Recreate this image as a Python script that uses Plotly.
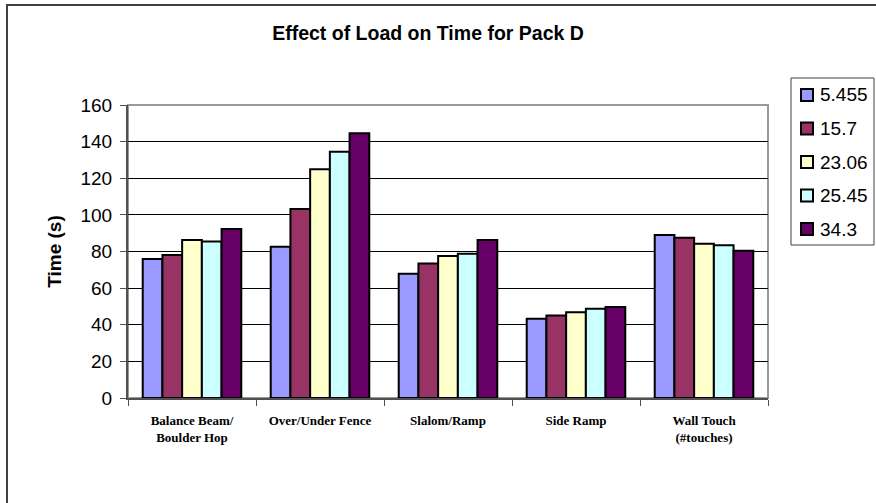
import plotly.graph_objects as go

# Tasks performed with Pack D
categories = [
    "Balance Beam/<br>Boulder Hop",
    "Over/Under Fence",
    "Slalom/Ramp",
    "Side Ramp",
    "Wall Touch<br>(#touches)",
]

# Load levels (series names) and their bar colours
loads = ["5.455", "15.7", "23.06", "25.45", "34.3"]
colors = ["#9999FF", "#993366", "#FFFFCC", "#CCFFFF", "#660066"]

# Time (s) per task for each load
time_5_455 = [75.9, 82.6, 67.9, 43.3, 89.0]
time_15_7 = [78.1, 103.2, 73.4, 45.0, 87.5]
time_23_06 = [86.3, 124.9, 77.6, 46.8, 84.3]
time_25_45 = [85.4, 134.5, 78.8, 48.8, 83.4]
time_34_3 = [92.3, 144.6, 86.3, 49.7, 80.4]
series = [time_5_455, time_15_7, time_23_06, time_25_45, time_34_3]

y_ticks = [0, 20, 40, 60, 80, 100, 120, 140, 160]

W, H = 876, 503
L, R, T, B = 128, 108, 105, 105
PW, PH = W - L - R, H - T - B


def px(x):
    return (x - L) / PW


def py(y):
    return (H - B - y) / PH


fig = go.Figure()
for name, vals, col in zip(loads, series, colors):
    fig.add_trace(go.Bar(
        x=categories, y=vals, name=name,
        marker=dict(color=col, line=dict(color="black", width=2)),
        showlegend=False,
    ))

shapes = []
# outer chart frame
shapes.append(dict(type="rect", xref="paper", yref="paper",
                   x0=px(7), x1=px(890), y0=py(5), y1=py(515),
                   line=dict(color="#404040", width=2), layer="below"))
# plot-area border
shapes.append(dict(type="rect", xref="paper", yref="paper",
                   x0=0, x1=1, y0=0, y1=1,
                   line=dict(color="#9a9a9a", width=2), layer="below"))

# legend box with coloured keys
lg_left, lg_right, lg_top, lg_bottom = 791, 874, 78, 245
shapes.append(dict(type="rect", xref="paper", yref="paper",
                   x0=px(lg_left), x1=px(lg_right), y0=py(lg_top), y1=py(lg_bottom),
                   line=dict(color="#404040", width=1), fillcolor="white"))
annotations = []
for i, (name, col) in enumerate(zip(loads, colors)):
    cy = 95 + 33.5 * i
    shapes.append(dict(type="rect", xref="paper", yref="paper",
                       x0=px(801), x1=px(813), y0=py(cy - 6), y1=py(cy + 6),
                       line=dict(color="black", width=2), fillcolor=col))
    annotations.append(dict(text=name, xref="paper", yref="paper",
                            x=px(818), y=py(cy), xanchor="left", yanchor="middle",
                            showarrow=False,
                            font=dict(family="Liberation Sans, Arial", size=19, color="black")))

fig.update_layout(
    width=W, height=H,
    margin=dict(l=L, r=R, t=T, b=B),
    paper_bgcolor="white", plot_bgcolor="white",
    barmode="group", bargap=0.23, bargroupgap=0,
    title=dict(text="<b>Effect of Load on Time for Pack D</b>",
               x=428 / W, xanchor="center", y=1 - 33 / H, yanchor="middle",
               font=dict(family="Liberation Sans, Arial", size=19.5, color="black")),
    shapes=shapes,
    annotations=annotations,
    xaxis=dict(
        showgrid=False, zeroline=False,
        showline=True, linecolor="#505050", linewidth=2,
        ticks="outside", tickson="boundaries", ticklen=6, tickcolor="#505050",
        tickfont=dict(family="Liberation Serif, Times New Roman", size=13,
                      color="black", weight="bold"),
        ticklabelstandoff=9,
    ),
    yaxis=dict(
        range=[0, 160], tickvals=y_ticks,
        showgrid=True, gridcolor="black", gridwidth=1,
        zeroline=False,
        showline=True, linecolor="#505050", linewidth=2,
        ticks="outside", ticklen=6, tickcolor="#505050",
        tickfont=dict(family="Liberation Sans, Arial", size=19, color="black"),
        ticklabelstandoff=4,
        title=dict(text="<b>Time (s)</b>", standoff=14,
                   font=dict(family="Liberation Sans, Arial", size=19, color="black")),
    ),
)

fig.write_html("out.html")
